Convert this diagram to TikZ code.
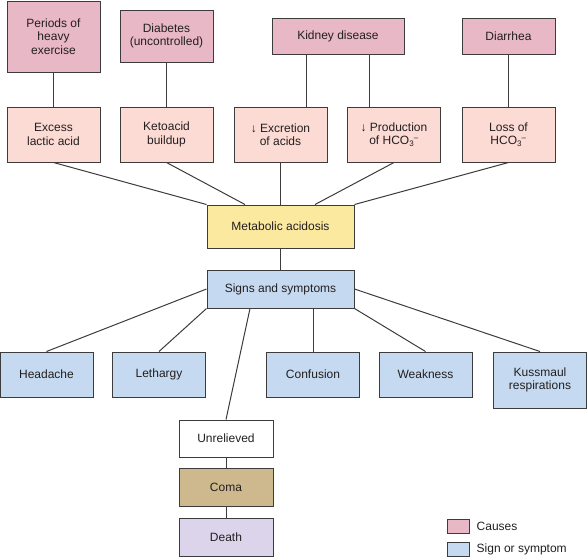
\documentclass[tikz,border=0pt]{standalone}
\usepackage{fontspec}
\setmainfont{Liberation Sans}
\usepackage{tikz}
\usetikzlibrary{calc,positioning}
\newcommand{\bicarb}{HCO\textsubscript{3}\kern-0.5pt\textsuperscript{--}}
\definecolor{linegray}{RGB}{60,60,60}
\definecolor{textgray}{RGB}{35,31,32}
\definecolor{causepink}{RGB}{232,184,198}
\definecolor{effectpink}{RGB}{251,219,211}
\definecolor{acidyellow}{RGB}{252,233,160}
\definecolor{signblue}{RGB}{197,218,240}
\definecolor{comatan}{RGB}{206,184,142}
\definecolor{deathlilac}{RGB}{220,212,234}
\tikzset{
  box/.style={draw=linegray, line width=1pt, align=center, inner sep=2pt,
              text=textgray, minimum width=93pt,
              font=\fontsize{12}{13.4}\selectfont},
  cause/.style={box, fill=causepink},
  effect/.style={box, fill=effectpink, minimum height=55pt},
  acid/.style={box, fill=acidyellow, minimum width=147pt},
  sign/.style={box, fill=signblue},
  symptom/.style={sign, minimum height=45pt},
  outcome/.style={box, minimum width=94pt, minimum height=37pt},
  swatch/.style={draw=linegray, line width=1pt, minimum width=22pt,
                 minimum height=14pt, inner sep=0pt},
  legendlab/.style={anchor=west, text=textgray, inner sep=0pt,
                    font=\fontsize{12}{13.4}\selectfont},
  link/.style={draw=linegray, line width=1pt},
}

\begin{document}
\begin{tikzpicture}[x=1pt,y=-1pt]
  \useasboundingbox (0,0) rectangle (587,558);

  % causes
  \node[cause, minimum height=71pt] (exercise) at (53.5,36.5)
    {Periods of\\heavy\\exercise};
  \node[cause, minimum height=52pt] (diabetes) at (166.5,36)
    {Diabetes\\(uncontrolled)};
  \node[cause, minimum width=132pt, minimum height=36pt] (kidney) at (338,36)
    {Kidney disease};
  \node[cause, minimum height=36pt] (diarrhea) at (508.5,36) {Diarrhea};

  \node[effect] (lactic) at (53.5,134.5) {Excess\\lactic acid};
  \node[effect] (keto) at (166.5,134.5) {Ketoacid\\buildup};
  \node[effect] (excretion) at (280.5,134.5) {↓ Excretion\\of acids};
  \node[effect] (production) at (394,134.5) {↓ Production\\of \bicarb};
  \node[effect] (loss) at (508.5,134.5) {Loss of\\\bicarb};

  \draw[link] (exercise.south) -- (lactic.north);
  \draw[link] (diabetes.south) -- (keto.north);
  \draw[link] ([xshift=-32pt]kidney.south) -- ([xshift=-32pt]kidney.south |- excretion.north);
  \draw[link] ([xshift=31pt]kidney.south) -- ([xshift=31pt]kidney.south |- production.north);
  \draw[link] (diarrhea.south) -- (loss.north);

  \node[acid, minimum height=43pt] (acidosis) at (280.5,226.5) {Metabolic acidosis};

  \draw[link] (lactic.south) -- (acidosis.north west);
  \draw[link] (keto.south) -- ([xshift=-35.5pt]acidosis.north);
  \draw[link] (excretion.south) -- (acidosis.north);
  \draw[link] (production.south) -- ([xshift=34.5pt]acidosis.north);
  \draw[link] (loss.south) -- (acidosis.north east);

  % signs and symptoms
  \node[sign, minimum width=147pt, minimum height=38pt] (signs) at (280.5,289)
    {Signs and symptoms};
  \draw[link] (acidosis.south) -- (signs.north);

  \node[symptom] (headache) at (46.5,374.5) {Headache};
  \node[symptom] (lethargy) at (159,374.5) {Lethargy};
  \node[symptom] (confusion) at (313,374.5) {Confusion};
  \node[symptom] (weakness) at (425.5,374.5) {Weakness};
  \node[sign, minimum height=56pt] (kussmaul) at (540,380)
    {Kussmaul\\respirations};

  \node[outcome, fill=white] (unrelieved) at (226,438.5) {Unrelieved};
  \node[outcome, fill=comatan, minimum height=38pt] (coma) at (226,487) {Coma};
  \node[outcome, fill=deathlilac, minimum height=38pt] (death) at (226,537) {Death};

  \draw[link] (signs.west) -- (headache.north);
  \draw[link] (signs.south west) -- (lethargy.north);
  \draw[link] ([xshift=-30.5pt]signs.south) -- (unrelieved.north);
  \draw[link] (confusion.north |- signs.south) -- (confusion.north);
  \draw[link] (signs.south east) -- (weakness.north);
  \draw[link] (signs.east) -- (kussmaul.north);
  \draw[link] (unrelieved.south) -- (coma.north);
  \draw[link] (coma.south) -- (death.north);

  % legend
  \node[swatch, fill=causepink] (keycause) at (458,526) {};
  \node[legendlab, right=7pt of keycause] (keycauselab) {Causes};
  \node[swatch, fill=signblue] (keysign) at (458,549) {};
  \node[legendlab, right=7pt of keysign] (keysignlab) {Sign or symptom};
\end{tikzpicture}
\end{document}
